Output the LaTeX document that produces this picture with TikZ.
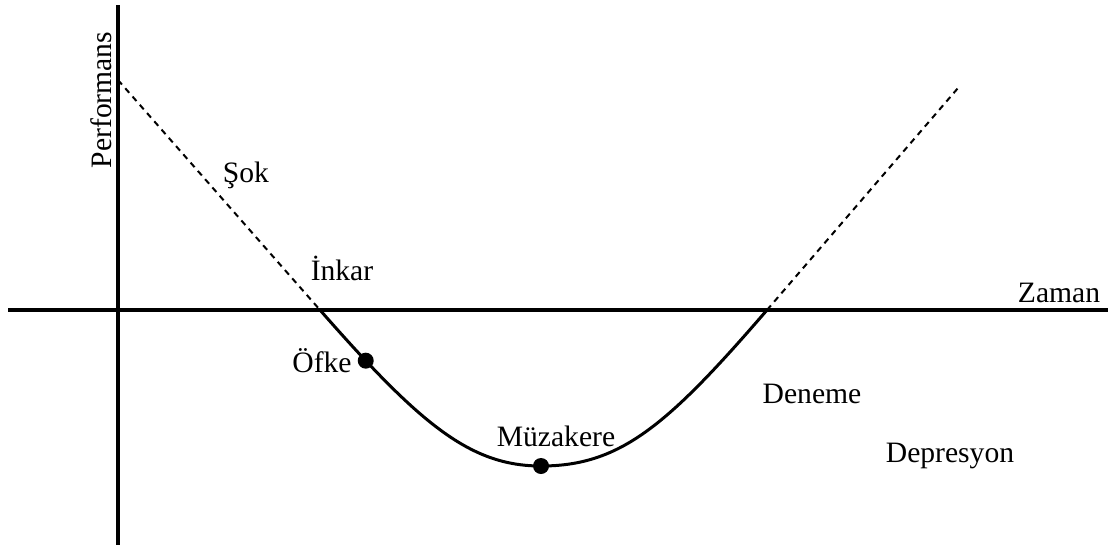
\documentclass[tikz,border=0pt]{standalone}
\usepackage{fontspec}
\setmainfont{Liberation Serif}
\begin{document}
\begin{tikzpicture}[x=1pt,y=-1pt,
  axis/.style={line width=3.3pt},
  curveline/.style={line width=3pt},
  guide/.style={line width=2pt,dash pattern=on 6pt off 5pt},
  dotmark/.style={circle,fill=black,inner sep=0pt,minimum size=16pt},
  lbl/.style={font=\fontsize{29.6pt}{35pt}\selectfont,inner sep=0pt,anchor=base}]
\useasboundingbox (0,0) rectangle (1108,549);
% axes
\coordinate (ytop) at (118,5);
\coordinate (ybot) at (118,545);
\coordinate (xl) at (8,310);
\coordinate (xr) at (1108,310);
\draw[axis] (ytop) -- (ybot);
\draw[axis] (xl) -- (xr);
% key points
\coordinate (start) at (118,80);
\coordinate (cross1) at (320,310);
\coordinate (bottom) at (541,466);
\coordinate (cross2) at (767,310);
\coordinate (finish) at (958,88);
% dashed guides
\draw[guide] (start) -- (cross1);
\draw[guide] (cross2) -- (finish);
% solid curve
\draw[curveline] (cross1) .. controls (420,424) and (470,466) .. node[dotmark,pos=0.165] (ofkedot) {} (bottom)
  .. controls (620,466) and (667,426) .. (cross2);
\node[dotmark] (muzdot) at (bottom) {};
% labels
\node[lbl,rotate=90] (perf) at (111,100) {Performans};
\node[lbl] (sok) at (246,182) {Şok};
\node[lbl] (inkar) at (342,280) {İnkar};
\node[lbl] (zaman) at (1059,302) {Zaman};
\node[lbl] (ofke) at (322,372) {Öfke};
\node[lbl] (muz) at (556,446) {Müzakere};
\node[lbl] (deneme) at (812,403) {Deneme};
\node[lbl] (dep) at (950,462) {Depresyon};
\end{tikzpicture}
\end{document}
